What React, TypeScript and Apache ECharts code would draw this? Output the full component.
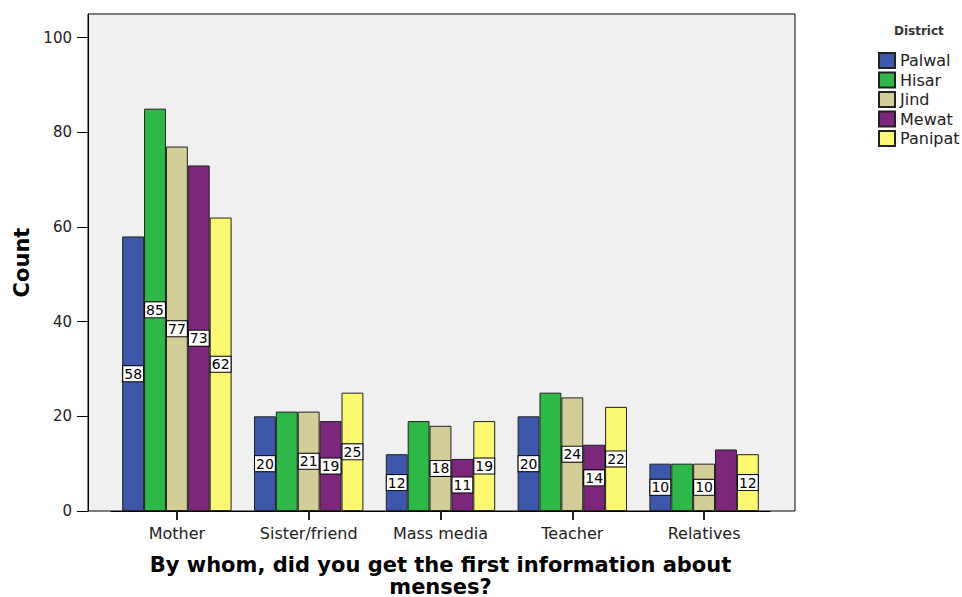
import React, { useEffect, useRef } from "react";
import * as echarts from "echarts";

const categories = ["Mother", "Sister/friend", "Mass media", "Teacher", "Relatives"];
const districts = ["Palwal", "Hisar", "Jind", "Mewat", "Panipat"];
const palwal = [58, 20, 12, 20, 10];
const hisar = [85, 21, 19, 25, 10];
const jind = [77, 21, 18, 24, 10];
const mewat = [73, 19, 11, 14, 13];
const panipat = [62, 25, 19, 22, 12];
// which bars carry a value label
const palwalLabelled = [true, true, true, true, true];
const hisarLabelled = [true, false, false, false, false];
const jindLabelled = [true, true, true, true, true];
const mewatLabelled = [true, true, true, true, false];
const panipatLabelled = [true, true, true, true, true];
const yTicks = [0, 20, 40, 60, 80, 100];
const yMax = 105;

const seriesValues = [palwal, hisar, jind, mewat, panipat];
const seriesLabelled = [palwalLabelled, hisarLabelled, jindLabelled, mewatLabelled, panipatLabelled];
const colors = ["#3D57AB", "#2DB847", "#D3CD97", "#7C277C", "#FBF872"];

const FONT = "'DejaVu Sans', Verdana, sans-serif";

// layout of the frame and of the inset bar area
const FRAME_LEFT = 88;
const FRAME_WIDTH = 707;
const BARS_LEFT = 111;
const BARS_WIDTH = 659;
const PLOT_TOP = 14;
const PLOT_HEIGHT = 497;

export default function App() {
  const ref = useRef<HTMLDivElement>(null);
  useEffect(() => {
    if (!ref.current) return;
    const chart = echarts.init(ref.current, null, { renderer: "svg" });

    // frame x-axis expressed in category-index units so its ticks sit on band centres
    const band = BARS_WIDTH / categories.length;
    const firstCentre = BARS_LEFT + band / 2;
    const frameMin = (FRAME_LEFT - firstCentre) / band;
    const frameMax = (FRAME_LEFT + FRAME_WIDTH - firstCentre) / band;
    const centreTicks = categories.map((_, i) => i);

    const bars = districts.map((d, i) => ({
      name: d,
      type: "bar",
      xAxisIndex: 1,
      yAxisIndex: 1,
      barGap: "0%",
      barCategoryGap: "17%",
      itemStyle: { color: colors[i], borderColor: "#222", borderWidth: 1 },
      label: {
        position: "inside",
        color: "#000",
        backgroundColor: "#fff",
        borderColor: "#000",
        borderWidth: 1,
        padding: [1, 1, 0, 1],
        fontSize: 14,
        fontFamily: FONT,
      },
      data: seriesValues[i].map((v, j) => ({
        value: v,
        label: { show: seriesLabelled[i][j] },
      })),
    }));

    chart.setOption({
      animation: false,
      backgroundColor: "#ffffff",
      textStyle: { fontFamily: FONT },
      title: {
        text: "District",
        left: 889,
        top: 20,
        textStyle: { fontSize: 12, fontWeight: "bold", color: "#333", fontFamily: FONT },
      },
      legend: {
        orient: "vertical",
        left: 873,
        top: 47,
        itemWidth: 16,
        itemHeight: 15,
        itemGap: 2.5,
        icon: "rect",
        data: districts,
        textStyle: { fontSize: 16, color: "#222", fontFamily: FONT },
      },
      grid: [
        {
          left: FRAME_LEFT,
          top: PLOT_TOP,
          width: FRAME_WIDTH,
          height: PLOT_HEIGHT,
          show: true,
          backgroundColor: "#F0F0F0",
          borderColor: "#000",
          borderWidth: 1,
          outerBoundsMode: "none",
        },
        { left: BARS_LEFT, top: PLOT_TOP, width: BARS_WIDTH, height: PLOT_HEIGHT, outerBoundsMode: "none" },
      ],
      xAxis: [
        {
          gridIndex: 0,
          type: "value",
          min: frameMin,
          max: frameMax,
          position: "bottom",
          splitLine: { show: false },
          axisLine: { show: false, onZero: false },
          axisLabel: { show: false },
          axisTick: {
            show: true,
            inside: false,
            length: 9,
            customValues: centreTicks,
            lineStyle: { color: "#222", width: 2 },
          },
        },
        {
          gridIndex: 1,
          type: "category",
          data: categories,
          axisLine: { show: true, onZero: false, lineStyle: { color: "#000", width: 1 } },
          axisTick: {
            show: true,
            inside: false,
            interval: 0,
            alignWithLabel: true,
            length: 9,
            lineStyle: { color: "#222", width: 2 },
          },
          axisLabel: { interval: 0, fontSize: 16, color: "#222", margin: 14, fontFamily: FONT },
          name: "By whom, did you get the first information about\nmenses?",
          nameLocation: "middle",
          nameGap: 43,
          nameTextStyle: {
            fontSize: 21,
            fontWeight: "bold",
            color: "#000",
            fontFamily: FONT,
            lineHeight: 22,
            verticalAlign: "top",
          },
        },
      ],
      yAxis: [
        {
          gridIndex: 0,
          type: "value",
          min: 0,
          max: yMax,
          position: "left",
          splitLine: { show: false },
          axisLine: { show: true, onZero: false, lineStyle: { color: "#000", width: 1 } },
          axisTick: { show: true, length: 11, customValues: yTicks, lineStyle: { color: "#000" } },
          axisLabel: { fontSize: 15, color: "#222", margin: 16, customValues: yTicks, fontFamily: FONT },
          name: "Count",
          nameLocation: "middle",
          nameGap: 56,
          nameTextStyle: { fontSize: 21, fontWeight: "bold", color: "#000", fontFamily: FONT },
        },
        { gridIndex: 1, type: "value", min: 0, max: yMax, show: false, splitLine: { show: false } },
      ],
      series: bars,
    });
    return () => chart.dispose();
  }, []);
  return (
    <div
      ref={ref}
      style={{ position: "fixed", left: 0, top: 0, width: 962, height: 597 }}
    />
  );
}
